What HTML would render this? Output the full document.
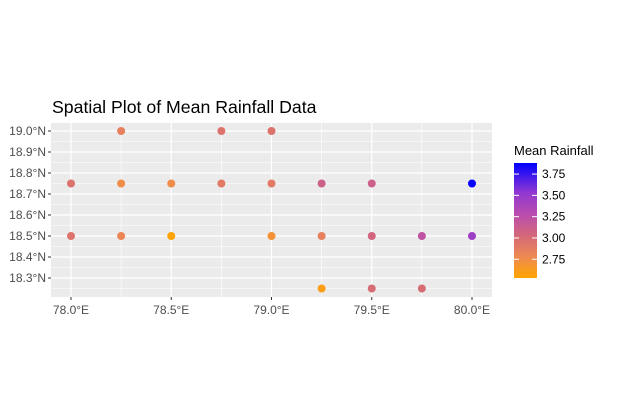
<!DOCTYPE html>
<html><head><meta charset="utf-8"><style>
body{margin:0;background:#fff;}
svg{display:block;font-family:"Liberation Sans",Arial,sans-serif;}
</style></head><body>
<svg id="chart" width="617" height="415">
<defs><linearGradient id="cg" x1="0" y1="1" x2="0" y2="0">
<stop offset="0" stop-color="#FFA500"/><stop offset="0.18" stop-color="#EE8A50"/><stop offset="0.37" stop-color="#D4687A"/><stop offset="0.55" stop-color="#BA4DAD"/><stop offset="0.74" stop-color="#9238D2"/><stop offset="1" stop-color="#0000FF"/>
</linearGradient></defs>
<text x="52" y="113" font-size="17.7" fill="#000">Spatial Plot of Mean Rainfall Data</text>
<rect x="51" y="123" width="441" height="174" fill="#EBEBEB"/>
<g id="grid"></g><g id="pts"></g><g id="axes"></g>
<text x="514" y="155" font-size="13" fill="#000">Mean Rainfall</text>
<rect x="514" y="163" width="23" height="115" fill="url(#cg)"/>
<g id="leg"></g>
</svg>
<script>
const lons=[78.25,78.75,79.0,78.0,78.25,78.5,78.75,79.0,79.25,79.5,80.0,78.0,78.25,78.5,79.0,79.25,79.5,79.75,80.0,79.25,79.5,79.75];
const lats=[19.0,19.0,19.0,18.75,18.75,18.75,18.75,18.75,18.75,18.75,18.75,18.5,18.5,18.5,18.5,18.5,18.5,18.5,18.5,18.25,18.25,18.25];
const rain=[2.85,2.95,2.95,2.95,2.75,2.75,2.9,2.9,3.1,3.1,3.86,2.95,2.8,2.55,2.7,2.85,3.05,3.22,3.45,2.6,3.0,3.0];
const xTicks=[78.0,78.5,79.0,79.5,80.0];
const yTicks=[18.3,18.4,18.5,18.6,18.7,18.8,18.9,19.0];
const legTicks=[2.75,3.0,3.25,3.5,3.75];
const NS="http://www.w3.org/2000/svg";
const X=v=>71+(v-78)*200.5, Y=v=>131+(19-v)*210;
const vmin=2.53,vmax=3.88;const L=v=>278-(v-vmin)/(vmax-vmin)*115;
const stops=[[0,[255,165,0]],[0.18,[238,138,80]],[0.37,[212,104,122]],[0.55,[186,77,173]],[0.74,[146,56,210]],[1,[0,0,255]]];
function col(v){let t=Math.max(0,Math.min(1,(v-vmin)/(vmax-vmin)));for(let i=1;i<stops.length;i++){if(t<=stops[i][0]){const a=stops[i-1],b=stops[i],f=(t-a[0])/(b[0]-a[0]);return 'rgb('+a[1].map((c,k)=>Math.round(c+(b[1][k]-c)*f)).join(',')+')';}}return 'rgb(0,0,255)';}
function mk(t,a,p){const e=document.createElementNS(NS,t);for(const k in a)e.setAttribute(k,a[k]);document.getElementById(p).appendChild(e);return e;}
for(let v=78.25;v<80;v+=0.5){mk('line',{x1:X(v),x2:X(v),y1:123,y2:297,stroke:'#fff','stroke-width':0.6},'grid');}
for(let v=18.25;v<19.05;v+=0.1){mk('line',{x1:51,x2:492,y1:Y(v),y2:Y(v),stroke:'#fff','stroke-width':0.6},'grid');}
xTicks.forEach(v=>{const l=mk('line',{x1:X(v),x2:X(v),y1:123,y2:297,stroke:'#fff','stroke-width':1.2},'grid');

mk('line',{x1:X(v),x2:X(v),y1:297,y2:300,stroke:'#333'},'axes');
const t=mk('text',{x:X(v),y:314,'font-size':12,fill:'#4D4D4D','text-anchor':'middle'},'axes');t.textContent=v.toFixed(1)+'°E';
});
yTicks.forEach(v=>{mk('line',{x1:51,x2:492,y1:Y(v),y2:Y(v),stroke:'#fff','stroke-width':1.2},'grid');
mk('line',{x1:48,x2:51,y1:Y(v),y2:Y(v),stroke:'#333'},'axes');
const t=mk('text',{x:46,y:Y(v)+4,'font-size':12,fill:'#4D4D4D','text-anchor':'end'},'axes');t.textContent=v.toFixed(1)+'°N';
});
rain.forEach((v,i)=>{const c=mk('circle',{cx:X(lons[i]),cy:Y(lats[i]),r:4,fill:col(v)},'pts');
});
legTicks.forEach(v=>{mk('line',{x1:514,x2:519,y1:L(v),y2:L(v),stroke:'#fff'},'leg');mk('line',{x1:532,x2:537,y1:L(v),y2:L(v),stroke:'#fff'},'leg');
const t=mk('text',{x:542,y:L(v)+4,'font-size':12,fill:'#000'},'leg');t.textContent=v.toFixed(2);
});
</script>
</body></html>
